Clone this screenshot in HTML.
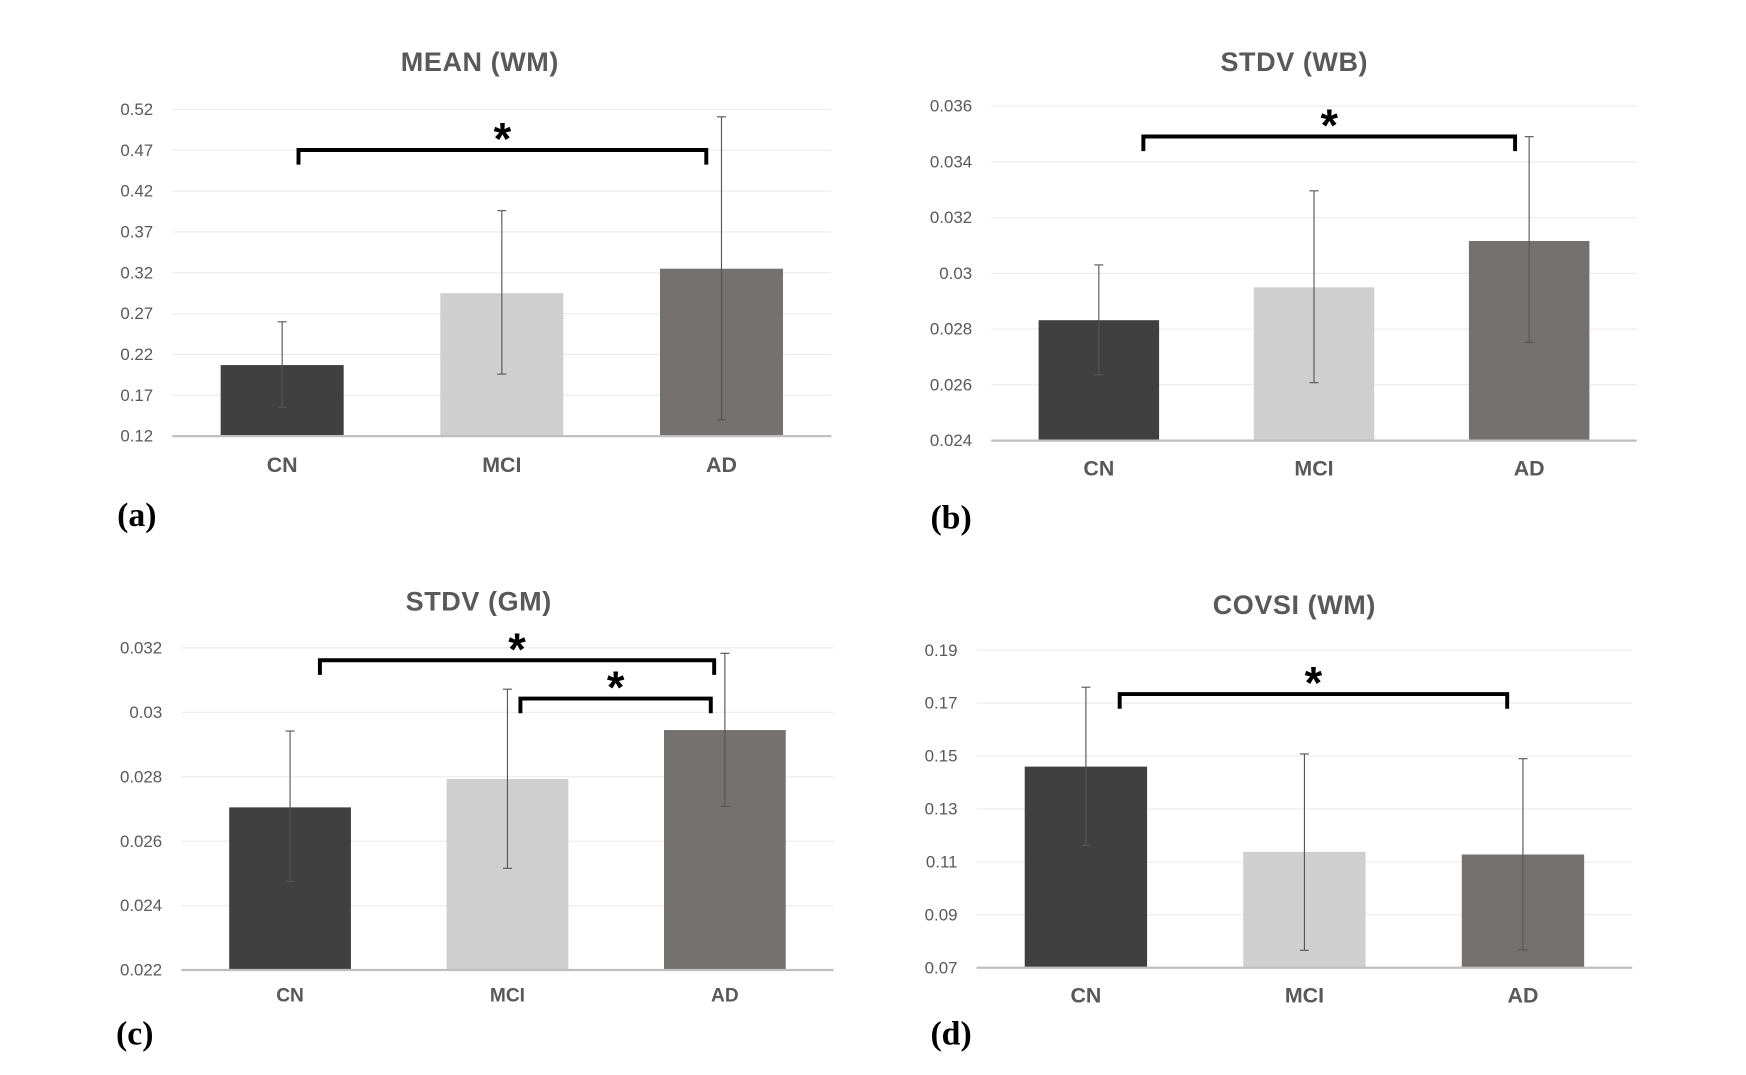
<!DOCTYPE html>
<html><head><meta charset="utf-8"><style>
html,body{margin:0;padding:0;background:#fff;}
svg{display:block;}
</style></head>
<body>
<svg id="fig" width="1746" height="1075" viewBox="0 0 1550 954" xmlns="http://www.w3.org/2000/svg" font-family="Liberation Sans, Arial, sans-serif"></svg>
<script>
// ---- data ----
const categories = ["CN","MCI","AD"];
// panel a: MEAN (WM)
const aTicks = ["0.12","0.17","0.22","0.27","0.32","0.37","0.42","0.47","0.52"];
const aMean = [0.207, 0.295, 0.325];
const aErrHi = [0.260, 0.396, 0.511];
const aErrLo = [0.155, 0.196, 0.140];
// panel b: STDV (WB)
const bTicks = ["0.024","0.026","0.028","0.03","0.032","0.034","0.036"];
const bMean = [0.02832, 0.02950, 0.03116];
const bErrHi = [0.03030, 0.03296, 0.03490];
const bErrLo = [0.02636, 0.02608, 0.02752];
// panel c: STDV (GM)
const cTicks = ["0.022","0.024","0.026","0.028","0.03","0.032"];
const cMean = [0.02705, 0.02793, 0.02945];
const cErrHi = [0.02942, 0.03072, 0.03183];
const cErrLo = [0.02476, 0.02516, 0.02708];
// panel d: COVSI (WM)
const dTicks = ["0.07","0.09","0.11","0.13","0.15","0.17","0.19"];
const dMean = [0.1460, 0.1138, 0.1128];
const dErrHi = [0.1760, 0.1508, 0.1490];
const dErrLo = [0.1163, 0.0766, 0.0768];

const colors = ["#404040","#d0cfcf","#767171"];
const NS = "http://www.w3.org/2000/svg";
const svg = document.getElementById('fig');
function mk(tag, attrs, parent){const e=document.createElementNS(NS,tag);for(const k in attrs)e.setAttribute(k,attrs[k]);(parent||svg).appendChild(e);return e;}

function panel(p){
  const g = mk('g',{});
  
  
  const tmin=parseFloat(p.ticks[0]), tmax=parseFloat(p.ticks[p.ticks.length-1]);
  const y=v=>p.bottom-(v-tmin)/(tmax-tmin)*(p.bottom-p.top);
  const right=p.left+p.step*3;
  p.ticks.forEach((t,i)=>{
    const v=parseFloat(t), yy=y(v);
    if(i>0){const gl=mk('line',{x1:p.left,x2:right,y1:yy,y2:yy,stroke:'#ececec','stroke-width':1},g);
      
      }
    const tl=mk('text',{x:p.left-17,y:yy+5,'text-anchor':'end','font-size':p.tickFs,fill:'#595959'},g);
    tl.textContent=t;
    
    
  });
  const bw=p.step*0.56;
  categories.forEach((c,i)=>{
    const cx=p.left+p.step*(i+0.5);
    const r=mk('rect',{x:cx-bw/2,y:y(p.mean[i]),width:bw,height:p.bottom-y(p.mean[i]),fill:colors[i]},g);
    
    
    const eb=mk('path',{d:`M${cx},${y(p.hi[i])}V${y(p.lo[i])}M${cx-4},${y(p.hi[i])}H${cx+4}M${cx-4},${y(p.lo[i])}H${cx+4}`,stroke:'#555',fill:'none','stroke-width':1},g);
    
    
    const cl=mk('text',{x:cx,y:p.bottom+p.catDy,'text-anchor':'middle','font-size':p.catFs,'font-weight':'bold',fill:'#595959'},g);
    cl.textContent=c;
    
    
  });
  const ax=mk('line',{x1:p.left,x2:right,y1:p.bottom,y2:p.bottom,stroke:'#bfbfbf','stroke-width':2},g);
  
  
  const ti=mk('text',{x:p.titleX,y:p.titleY,'text-anchor':'middle','font-size':24,'font-weight':'bold',fill:'#595959','letter-spacing':'0.5'},g);
  ti.textContent=p.title;
  
  
  const lb=mk('text',{x:p.labX,y:p.labY,'font-size':30,'font-weight':'bold',fill:'#000','font-family':'Liberation Serif, serif'},g);
  lb.textContent=p.label;
  
  
  p.brackets.forEach(b=>{
    const br=mk('path',{d:`M${b[0]},${b[2]+13}V${b[2]}H${b[1]}V${b[2]+13}`,stroke:'#000',fill:'none','stroke-width':3.5},g);
    
    
    const st=mk('text',{x:(b[0]+b[1])/2,y:b[2]+4,'text-anchor':'middle','font-size':40,'font-weight':'bold',fill:'#000'},g);
    st.textContent='*';
    
    
  });
}
panel({id:'a',title:'MEAN (WM)',label:'(a)',ticks:aTicks,mean:aMean,hi:aErrHi,lo:aErrLo,left:153,step:195,top:97,bottom:387,tickFs:15,catFs:19,catDy:32,titleX:426,titleY:63,labX:104,labY:467,brackets:[[265,627,133]]});
panel({id:'b',title:'STDV (WB)',label:'(b)',ticks:bTicks,mean:bMean,hi:bErrHi,lo:bErrLo,left:880,step:191,top:94,bottom:391,tickFs:15,catFs:19,catDy:31,titleX:1149,titleY:63,labX:826,labY:469,brackets:[[1015,1345,121]]});
panel({id:'c',title:'STDV (GM)',label:'(c)',ticks:cTicks,mean:cMean,hi:cErrHi,lo:cErrLo,left:161,step:193,top:575,bottom:861,tickFs:15,catFs:17,catDy:28,titleX:425,titleY:542,labX:103,labY:927,brackets:[[284,634,586],[462,631,620]]});
panel({id:'d',title:'COVSI (WM)',label:'(d)',ticks:dTicks,mean:dMean,hi:dErrHi,lo:dErrLo,left:867,step:194,top:577,bottom:859,tickFs:15,catFs:19,catDy:31,titleX:1149,titleY:545,labX:826,labY:927,brackets:[[994,1338,616]]});
</script>
</body></html>
